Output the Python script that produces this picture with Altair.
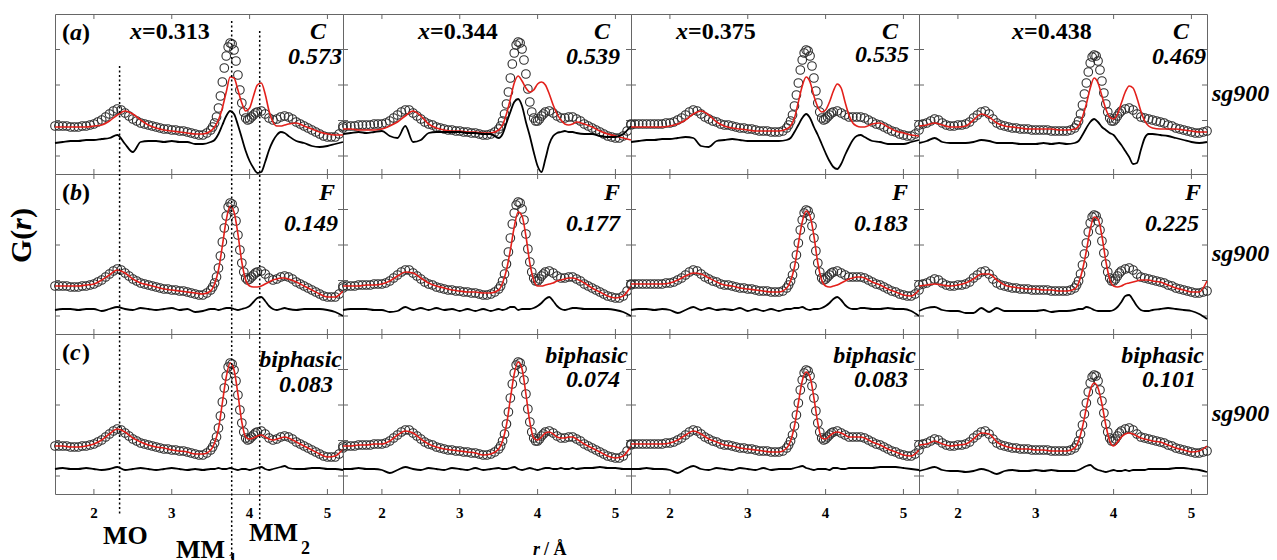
import altair as alt
import numpy as np
import pandas as pd

# ---------------------------------------------------------------------------
# r grids (Å): observed G(r) is sampled more finely through the M-M peak
# ---------------------------------------------------------------------------
R_OBS = np.round(np.concatenate([
    np.arange(1.5, 3.5001, 0.05),
    np.arange(3.525, 4.1001, 0.025),
    np.arange(4.15, 5.2001, 0.05),
]), 3)
R_FIT = np.round(np.concatenate([
    np.arange(1.5, 3.5001, 0.1),
    np.arange(3.55, 4.5001, 0.05),
    np.arange(4.6, 5.2001, 0.1),
]), 3)

COMPOSITIONS = ["0.313", "0.344", "0.375", "0.438"]
MODELS = ["C", "F", "biphasic"]
PANEL_TAGS = ["a", "b", "c"]
R_FACTORS = {
    "C": [0.573, 0.539, 0.535, 0.469],
    "F": [0.149, 0.177, 0.183, 0.225],
    "biphasic": [0.083, 0.074, 0.083, 0.101],
}
X_TICKS = [2, 3, 4, 5]
X_TICK_LABELS = ["2", "3", "4", "5"]
Y_TICKS = [-2.2, 1.35, 4.9, 8.45]
BOND_R = {"MO": 2.33, "MM1": 3.77, "MM2": 4.13}

# ---------------------------------------------------------------------------
# Observed G(r), one curve per composition
# ---------------------------------------------------------------------------
OBS_313 = [0.8, 0.8, 0.8, 0.8, 0.7, 0.7, 0.7, 0.8, 0.8, 0.9,
           1.0, 1.2, 1.4, 1.7, 2.0, 2.3, 2.5, 2.4, 2.1, 1.8,
           1.5, 1.3, 1.1, 1.0, 0.9, 0.8, 0.7, 0.6, 0.5, 0.5,
           0.4, 0.4, 0.3, 0.3, 0.2, 0.1, 0.0, -0.1, -0.1, 0.1, 0.4,
           0.7, 1.1, 1.7, 2.6, 3.8, 5.2, 6.6, 7.8, 8.7, 9.1, 9.0, 8.4,
           7.3, 5.9, 4.4, 3.1, 2.2, 1.6, 1.4, 1.5, 1.7, 1.9, 2.1, 2.2,
           2.3, 2.0, 1.6, 1.4, 1.5, 1.7, 1.8, 1.7, 1.5, 1.2, 1.0,
           0.8, 0.6, 0.4, 0.2, 0.0, -0.2, -0.3, -0.3, -0.3, 0.0, 0.6]
OBS_344 = [0.8, 0.8, 0.8, 0.8, 0.9, 0.9, 0.9, 0.9, 1.0, 1.0,
           1.0, 1.1, 1.3, 1.6, 1.9, 2.2, 2.4, 2.4, 2.1, 1.8,
           1.5, 1.2, 1.0, 0.9, 0.7, 0.6, 0.5, 0.4, 0.4, 0.3,
           0.3, 0.2, 0.2, 0.1, 0.1, 0.0, -0.1, -0.1, 0.0, 0.2, 0.5,
           0.8, 1.3, 2.0, 3.0, 4.2, 5.6, 7.0, 8.1, 8.9, 9.2, 9.1, 8.5,
           7.4, 6.0, 4.5, 3.2, 2.2, 1.6, 1.3, 1.3, 1.5, 1.8, 2.0, 2.2,
           2.3, 2.1, 1.8, 1.6, 1.6, 1.7, 1.7, 1.5, 1.3, 1.0, 0.8,
           0.6, 0.4, 0.2, 0.0, -0.2, -0.3, -0.4, -0.4, -0.2, 0.3, 0.9]
OBS_375 = [1.0, 1.0, 1.0, 1.0, 1.0, 1.0, 1.0, 1.0, 1.0, 1.1,
           1.1, 1.2, 1.4, 1.6, 1.9, 2.2, 2.4, 2.3, 2.0, 1.7,
           1.5, 1.3, 1.2, 1.0, 0.9, 0.9, 0.8, 0.7, 0.6, 0.6,
           0.5, 0.5, 0.4, 0.3, 0.3, 0.3, 0.2, 0.2, 0.2, 0.3, 0.6,
           0.9, 1.3, 1.9, 2.8, 3.9, 5.1, 6.4, 7.4, 8.1, 8.4, 8.3, 7.8,
           6.8, 5.6, 4.3, 3.1, 2.2, 1.6, 1.4, 1.5, 1.7, 1.9, 2.1, 2.2,
           2.3, 2.1, 1.9, 1.7, 1.7, 1.7, 1.7, 1.6, 1.4, 1.2, 1.0,
           0.9, 0.7, 0.5, 0.3, 0.2, 0.0, -0.1, -0.2, -0.2, 0.0, 0.4]
OBS_438 = [0.9, 1.0, 1.1, 1.3, 1.5, 1.4, 1.1, 0.9, 0.8, 0.8,
           0.9, 0.9, 1.0, 1.2, 1.6, 1.9, 2.2, 2.3, 2.0, 1.5,
           1.1, 0.9, 0.8, 0.7, 0.6, 0.6, 0.5, 0.5, 0.5, 0.4,
           0.4, 0.4, 0.4, 0.4, 0.3, 0.3, 0.3, 0.3, 0.3, 0.4, 0.6,
           0.9, 1.3, 2.0, 2.9, 4.0, 5.1, 6.2, 7.1, 7.7, 7.9, 7.8, 7.3,
           6.4, 5.3, 4.1, 3.0, 2.2, 1.6, 1.3, 1.3, 1.5, 1.8, 2.1, 2.3,
           2.5, 2.6, 2.4, 2.0, 1.7, 1.6, 1.5, 1.4, 1.3, 1.2, 1.1,
           0.9, 0.8, 0.6, 0.5, 0.4, 0.3, 0.2, 0.1, 0.1, 0.2, 0.3]

# ---------------------------------------------------------------------------
# Model fits and difference curves (offset below the data)
# ---------------------------------------------------------------------------
FIT_C_313 = [0.7, 0.7, 0.7, 0.7, 0.7, 0.8, 0.9, 1.3, 1.9, 2.3, 2.0, 1.4, 0.9, 0.6, 0.4, 0.3, 0.2, 0.1, 0.0, 0.0, 0.3,
             0.7, 1.4, 2.6, 4.2, 5.7, 5.6, 4.4, 3.1, 2.3, 2.6, 3.8, 4.9, 5.1, 4.0, 2.3, 1.2, 0.8, 0.8, 0.9, 1.0,
             1.1, 0.8, 0.5, 0.2, 0.0, -0.1, -0.1]
DIFF_C_313 = [-0.9, -0.8, -0.7, -0.7, -0.6, -0.6, -0.5, -0.4, -0.1, -1.0, -1.8, -0.8, -0.7, -0.7, -0.8, -0.7, -0.8, -0.8, -1.0, -1.0, -0.8,
              -0.6, 0.0, 0.9, 1.8, 2.3, 2.0, 0.9, -0.4, -1.7, -2.7, -3.4, -3.9, -3.8, -2.8, -1.6, -0.7, -0.1, 0.2, 0.1, -0.2,
              -0.7, -0.9, -1.2, -1.3, -1.2, -1.0, -0.8]
FIT_F_313 = [0.8, 0.8, 0.8, 0.8, 0.9, 1.0, 1.4, 1.9, 2.4, 2.1, 1.5, 1.1, 0.9, 0.7, 0.5, 0.4, 0.3, 0.2, 0.1, 0.0, 0.3,
             1.0, 2.4, 4.8, 7.4, 8.8, 8.2, 6.0, 3.2, 1.4, 0.8, 0.7, 0.7, 0.8, 1.0, 1.2, 1.4, 1.5, 1.6, 1.6, 1.5,
             1.2, 0.8, 0.4, 0.0, -0.3, -0.3, 0.3]
DIFF_F_313 = [-1.6, -1.5, -1.5, -1.6, -1.5, -1.5, -1.7, -1.5, -1.3, -1.5, -1.6, -1.4, -1.5, -1.6, -1.5, -1.4, -1.6, -1.5, -1.8, -1.7, -1.5,
              -1.5, -1.6, -1.5, -1.4, -1.4, -1.5, -1.6, -1.5, -1.4, -1.2, -0.8, -0.4, -0.3, -0.7, -1.2, -1.5, -1.6, -1.5, -1.4, -1.5,
              -1.6, -1.5, -1.5, -1.5, -1.6, -1.8, -2.2]
FIT_B_313 = [0.8, 0.8, 0.7, 0.7, 0.8, 1.0, 1.4, 2.0, 2.5, 2.2, 1.6, 1.2, 0.9, 0.7, 0.6, 0.4, 0.3, 0.2, 0.0, 0.0, 0.4,
             1.1, 2.5, 5.1, 7.7, 9.1, 8.4, 6.0, 3.2, 1.7, 1.5, 1.6, 1.8, 1.9, 1.7, 1.5, 1.4, 1.5, 1.6, 1.7, 1.6,
             1.2, 0.8, 0.4, 0.0, -0.3, -0.2, 0.5]
DIFF_B_313 = [-1.5, -1.4, -1.5, -1.5, -1.4, -1.5, -1.6, -1.5, -1.3, -1.6, -1.5, -1.4, -1.5, -1.6, -1.5, -1.4, -1.5, -1.6, -1.5, -1.6, -1.5,
              -1.5, -1.4, -1.5, -1.5, -1.4, -1.5, -1.6, -1.5, -1.5, -1.6, -1.5, -1.4, -1.3, -1.5, -1.6, -1.5, -1.4, -1.3, -1.2, -1.4,
              -1.5, -1.5, -1.4, -1.4, -1.5, -1.5, -1.6]

FIT_C_344 = [0.5, 0.5, 0.4, 0.4, 0.4, 0.5, 0.8, 1.2, 1.8, 2.3, 1.8, 1.0, 0.6, 0.4, 0.3, 0.3, 0.2, 0.2, 0.1, 0.1, 0.4,
             0.9, 2.0, 3.5, 5.1, 5.8, 5.3, 4.6, 4.2, 4.4, 5.0, 5.2, 4.9, 4.0, 2.9, 2.0, 1.4, 1.0, 0.9, 1.0, 1.2,
             1.0, 0.7, 0.3, 0.0, -0.2, -0.4, -0.6]
DIFF_C_344 = [0.0, 0.1, 0.2, 0.1, 0.2, 0.3, -0.2, -0.4, 0.8, -0.8, -0.6, 0.1, 0.2, 0.2, 0.2, 0.2, 0.1, 0.1, 0.0, 0.0, -0.4,
              0.0, 1.1, 2.2, 3.2, 3.5, 2.8, 1.2, -0.2, -1.8, -3.2, -3.8, -2.5, -1.0, -0.2, 0.1, 0.2, 0.3, 0.2, 0.2, 0.1,
              0.0, 0.0, -0.2, -0.3, -0.3, 0.0, 0.8]
FIT_F_344 = [0.8, 0.8, 0.8, 0.9, 0.9, 1.0, 1.3, 1.8, 2.2, 2.1, 1.6, 1.1, 0.8, 0.6, 0.4, 0.3, 0.2, 0.2, 0.1, 0.1, 0.4,
             1.1, 2.4, 4.4, 6.7, 8.2, 7.8, 5.8, 3.1, 1.4, 0.8, 0.8, 0.9, 1.0, 1.1, 1.3, 1.4, 1.5, 1.6, 1.6, 1.5,
             1.1, 0.6, 0.2, -0.2, -0.4, -0.2, 0.8]
DIFF_F_344 = [-1.6, -1.5, -1.5, -1.5, -1.6, -1.6, -1.8, -1.7, -1.3, -1.6, -1.4, -1.6, -1.4, -1.6, -1.5, -1.7, -1.5, -1.7, -1.5, -1.7, -1.5,
              -1.6, -1.5, -1.3, -1.3, -1.6, -1.5, -1.5, -1.5, -1.4, -1.2, -0.9, -0.5, -0.3, -0.7, -1.2, -1.5, -1.6, -1.5, -1.4, -1.4,
              -1.5, -1.5, -1.5, -1.5, -1.6, -1.8, -2.2]
FIT_B_344 = [0.8, 0.8, 0.9, 0.9, 1.0, 1.0, 1.3, 1.9, 2.3, 2.1, 1.5, 1.0, 0.7, 0.5, 0.4, 0.3, 0.2, 0.1, -0.1, 0.0, 0.5,
             1.3, 2.9, 5.5, 8.0, 9.2, 8.5, 6.0, 3.2, 1.6, 1.4, 1.7, 2.1, 2.2, 2.0, 1.7, 1.6, 1.6, 1.7, 1.7, 1.5,
             1.0, 0.6, 0.2, -0.2, -0.4, -0.2, 0.8]
DIFF_B_344 = [-1.5, -1.5, -1.4, -1.5, -1.5, -1.6, -1.9, -1.6, -1.3, -1.5, -1.6, -1.4, -1.5, -1.6, -1.4, -1.5, -1.6, -1.4, -1.6, -1.5, -1.4,
              -1.5, -1.5, -1.4, -1.3, -1.5, -1.6, -1.5, -1.4, -1.5, -1.6, -1.5, -1.4, -1.4, -1.5, -1.5, -1.4, -1.5, -1.5, -1.4, -1.5,
              -1.4, -1.4, -1.3, -1.4, -1.4, -1.5, -1.5]

FIT_C_375 = [0.7, 0.7, 0.7, 0.7, 0.7, 0.8, 1.0, 1.4, 2.0, 2.3, 1.9, 1.2, 0.8, 0.6, 0.5, 0.4, 0.3, 0.3, 0.3, 0.3, 0.5,
             0.8, 1.6, 3.2, 4.8, 5.7, 5.2, 3.8, 2.7, 2.2, 2.4, 3.2, 4.3, 5.0, 4.6, 3.2, 1.9, 1.1, 0.8, 0.7, 0.7,
             1.0, 1.1, 0.7, 0.3, 0.1, -0.1, -0.2]
DIFF_C_375 = [-0.8, -0.7, -0.6, -0.6, -0.5, -0.5, -0.4, -0.3, -0.4, -1.2, -1.3, -0.7, -0.6, -0.5, -0.6, -0.7, -0.7, -0.7, -0.7, -0.7, -0.6,
              -0.4, 0.2, 0.9, 1.6, 2.0, 1.6, 0.7, -0.1, -1.0, -1.9, -2.7, -3.3, -3.5, -3.0, -2.1, -1.3, -0.6, -0.2, -0.1, -0.3,
              -0.7, -0.8, -1.0, -1.0, -1.0, -0.8, -0.6]
FIT_F_375 = [1.0, 1.0, 1.0, 1.0, 1.0, 1.1, 1.4, 1.8, 2.1, 2.0, 1.6, 1.2, 0.9, 0.8, 0.6, 0.5, 0.4, 0.3, 0.2, 0.2, 0.6,
             1.3, 2.7, 5.0, 7.2, 8.3, 7.8, 5.8, 3.1, 1.4, 0.8, 0.7, 0.8, 0.9, 1.1, 1.3, 1.5, 1.6, 1.7, 1.7, 1.6,
             1.2, 0.9, 0.5, 0.2, -0.1, -0.2, 0.4]
DIFF_F_375 = [-1.6, -1.5, -1.5, -1.6, -1.5, -1.6, -1.9, -1.6, -1.3, -1.6, -1.4, -1.6, -1.5, -1.6, -1.4, -1.7, -1.5, -1.7, -1.5, -1.7, -1.5,
              -1.5, -1.4, -1.4, -1.3, -1.5, -1.6, -1.5, -1.5, -1.4, -1.2, -0.9, -0.5, -0.3, -0.6, -1.1, -1.4, -1.5, -1.5, -1.4, -1.4,
              -1.5, -1.5, -1.4, -1.5, -1.5, -1.7, -2.2]
FIT_B_375 = [1.0, 1.0, 1.0, 1.0, 1.0, 1.1, 1.4, 1.9, 2.3, 2.0, 1.5, 1.2, 0.9, 0.8, 0.6, 0.5, 0.4, 0.3, 0.2, 0.2, 0.6,
             1.3, 2.8, 5.1, 7.3, 8.2, 7.7, 5.6, 3.1, 1.6, 1.5, 1.8, 2.1, 2.2, 2.1, 1.9, 1.7, 1.7, 1.7, 1.7, 1.6,
             1.2, 0.9, 0.5, 0.2, -0.1, -0.2, 0.4]
DIFF_B_375 = [-1.5, -1.5, -1.4, -1.5, -1.5, -1.6, -1.9, -1.5, -1.2, -1.5, -1.6, -1.4, -1.5, -1.6, -1.4, -1.5, -1.6, -1.4, -1.6, -1.5, -1.5,
              -1.5, -1.4, -1.3, -1.2, -1.4, -1.5, -1.6, -1.5, -1.5, -1.5, -1.6, -1.4, -1.4, -1.5, -1.5, -1.4, -1.4, -1.4, -1.4, -1.4,
              -1.4, -1.3, -1.3, -1.3, -1.4, -1.5, -1.6]

FIT_C_438 = [0.8, 0.9, 1.1, 0.9, 0.7, 0.7, 0.8, 1.4, 2.0, 1.7, 1.1, 0.8, 0.7, 0.6, 0.5, 0.5, 0.5, 0.5, 0.4, 0.4, 0.5,
             0.8, 1.7, 3.0, 4.6, 5.6, 5.1, 3.8, 2.5, 1.7, 1.5, 2.0, 3.1, 4.2, 4.8, 4.6, 3.6, 2.3, 1.3, 0.8, 0.6,
             0.5, 0.5, 0.5, 0.4, 0.3, 0.2, 0.2]
DIFF_C_438 = [-0.9, -0.7, -0.4, -0.8, -0.9, -0.9, -0.9, -0.8, -0.6, -0.7, -0.9, -0.9, -0.9, -1.0, -1.0, -1.0, -0.9, -1.0, -0.9, -1.0, -0.9,
              -0.7, -0.1, 0.6, 1.2, 1.5, 1.2, 0.7, 0.4, 0.1, -0.1, -0.6, -1.1, -1.7, -2.3, -3.0, -2.9, -1.6, -0.4, 0.0, 0.0,
              -0.1, -0.2, -0.4, -0.6, -0.8, -0.9, -0.8]
FIT_F_438 = [0.8, 0.9, 1.0, 0.9, 0.8, 0.9, 1.1, 1.5, 2.0, 2.0, 1.4, 0.9, 0.7, 0.6, 0.5, 0.5, 0.4, 0.4, 0.3, 0.3, 0.5,
             1.1, 2.4, 4.3, 6.5, 7.7, 7.5, 5.8, 3.3, 1.5, 0.8, 0.7, 0.8, 1.0, 1.1, 1.2, 1.3, 1.4, 1.4, 1.4, 1.3,
             1.2, 0.9, 0.6, 0.4, 0.2, 0.2, 1.3]
DIFF_F_438 = [-1.7, -1.4, -1.3, -1.6, -1.7, -1.7, -1.9, -1.9, -1.4, -1.8, -1.4, -1.7, -1.7, -1.7, -1.7, -1.7, -1.6, -1.8, -1.7, -1.7, -1.6,
              -1.5, -1.5, -1.3, -1.4, -1.6, -1.7, -1.7, -1.7, -1.7, -1.6, -1.3, -0.8, -0.2, -0.1, -0.6, -1.2, -1.6, -1.7, -1.7, -1.6,
              -1.5, -1.4, -1.5, -1.6, -1.7, -2.0, -2.5]
FIT_B_438 = [0.9, 1.0, 1.3, 1.0, 0.8, 0.9, 1.0, 1.5, 2.1, 2.0, 1.2, 0.8, 0.6, 0.5, 0.5, 0.4, 0.4, 0.3, 0.3, 0.3, 0.6,
             1.3, 2.7, 4.6, 6.4, 7.1, 6.6, 5.0, 2.9, 1.3, 0.8, 1.2, 1.7, 2.0, 2.1, 2.0, 1.8, 1.6, 1.5, 1.4, 1.3,
             1.2, 0.9, 0.6, 0.4, 0.2, 0.3, 0.8]
DIFF_B_438 = [-1.7, -1.5, -1.3, -1.6, -1.7, -1.7, -1.8, -1.7, -1.5, -1.7, -2.0, -1.7, -1.6, -1.7, -1.7, -1.6, -1.7, -1.6, -1.7, -1.7, -1.7,
              -1.6, -1.4, -1.2, -1.1, -1.4, -1.6, -1.7, -1.8, -1.7, -1.6, -1.7, -1.7, -1.6, -1.7, -1.6, -1.6, -1.6, -1.6, -1.5, -1.5,
              -1.5, -1.5, -1.4, -1.4, -1.5, -1.6, -1.8]

OBS = {"0.313": OBS_313, "0.344": OBS_344, "0.375": OBS_375, "0.438": OBS_438}
FIT = {
    ("C", "0.313"): FIT_C_313, ("F", "0.313"): FIT_F_313, ("biphasic", "0.313"): FIT_B_313,
    ("C", "0.344"): FIT_C_344, ("F", "0.344"): FIT_F_344, ("biphasic", "0.344"): FIT_B_344,
    ("C", "0.375"): FIT_C_375, ("F", "0.375"): FIT_F_375, ("biphasic", "0.375"): FIT_B_375,
    ("C", "0.438"): FIT_C_438, ("F", "0.438"): FIT_F_438, ("biphasic", "0.438"): FIT_B_438,
}
DIFF = {
    ("C", "0.313"): DIFF_C_313, ("F", "0.313"): DIFF_F_313, ("biphasic", "0.313"): DIFF_B_313,
    ("C", "0.344"): DIFF_C_344, ("F", "0.344"): DIFF_F_344, ("biphasic", "0.344"): DIFF_B_344,
    ("C", "0.375"): DIFF_C_375, ("F", "0.375"): DIFF_F_375, ("biphasic", "0.375"): DIFF_B_375,
    ("C", "0.438"): DIFF_C_438, ("F", "0.438"): DIFF_F_438, ("biphasic", "0.438"): DIFF_B_438,
}

# ---------------------------------------------------------------------------
# Layout
# ---------------------------------------------------------------------------
W, H = 288, 160
SERIF = "Liberation Serif"
FRAME = "#666666"
X_SCALE = alt.Scale(domain=[1.5, 5.2], nice=False, zero=False)
Y_SCALE = alt.Scale(domain=[-4, 12], nice=False, zero=False)

# annotation placement inside each panel
XLAB_LEFT = [75, 75, 45, 93]
NAME_RIGHT = {"C": [271, 267, 267, 270], "F": [280, 277, 277, 282], "biphasic": [287, 285, 285, 285]}
NAME_BASE = {"C": [25, 25, 25, 25], "F": [26, 26, 26, 26], "biphasic": [33, 29, 29, 29]}
VAL_RIGHT = {"C": [287, 277, 278, 287], "F": [283, 277, 277, 280], "biphasic": [278, 277, 277, 277]}
VAL_BASE = {"C": [50, 50, 48, 50], "F": [57, 57, 57, 57], "biphasic": [58, 53, 53, 53]}


def txt(text, x, y, size=24, italic=False, align="left", baseline="alphabetic", angle=0):
    props = dict(font=SERIF, fontSize=size, fontWeight="bold",
                 fontStyle="italic" if italic else "normal",
                 align=align, baseline=baseline, color="black")
    if angle:
        props["angle"] = angle
    return alt.Chart(pd.DataFrame({"label": [text]})).mark_text(**props).encode(
        x=alt.value(x), y=alt.value(y), text="label:N")


def panel(i, j):
    model, comp = MODELS[i], COMPOSITIONS[j]
    x = alt.X("r:Q", scale=X_SCALE, axis=None)
    y = alt.Y("G:Q", scale=Y_SCALE, axis=None)

    obs = pd.DataFrame({"r": R_OBS, "G": OBS[comp]})
    fit = pd.DataFrame({"r": R_FIT, "G": FIT[(model, comp)]})
    dif = pd.DataFrame({"r": R_FIT, "G": DIFF[(model, comp)]})
    xt = pd.DataFrame({"r": X_TICKS, "label": X_TICK_LABELS})
    yt = pd.DataFrame({"G": Y_TICKS})

    tick = dict(color=FRAME, strokeWidth=1)
    layers = [
        alt.Chart(xt).mark_rule(**tick).encode(x=x, y=alt.value(0), y2=alt.value(5)),
        alt.Chart(xt).mark_rule(**tick).encode(x=x, y=alt.value(H - 5), y2=alt.value(H)),
        alt.Chart(yt).mark_rule(**tick).encode(y=y, x=alt.value(0), x2=alt.value(5)),
        alt.Chart(yt).mark_rule(**tick).encode(y=y, x=alt.value(W - 5), x2=alt.value(W)),
        # open circles: observed data
        alt.Chart(obs).mark_point(shape="circle", filled=False, size=74, color="#2e2e2e",
                                  strokeWidth=1.1, opacity=1).encode(x=x, y=y),
        alt.Chart(fit).mark_line(color="#e3201b", strokeWidth=1.6,
                                 interpolate="monotone").encode(x=x, y=y),
        alt.Chart(dif).mark_line(color="black", strokeWidth=1.8,
                                 interpolate="monotone").encode(x=x, y=y),
    ]

    # model name and its agreement factor
    layers.append(txt(model, NAME_RIGHT[model][j], NAME_BASE[model][j], italic=True, align="right"))
    layers.append(txt(f"{R_FACTORS[model][j]:.3f}", VAL_RIGHT[model][j], VAL_BASE[model][j],
                      italic=True, align="right"))

    if i == 0:
        left = XLAB_LEFT[j]
        layers.append(txt("x", left, 25, italic=True))
        layers.append(txt(f"={comp}", left + 12, 25))
    if j == 0:
        layers.append(txt("(", 7, 26))
        layers.append(txt(PANEL_TAGS[i], 15, 26, italic=True))
        layers.append(txt(")", 27, 26))
    if j == 3:
        layers.append(txt("sg900", W + 5, 87, italic=True))
    if i == 2:
        layers.append(alt.Chart(xt).mark_text(font=SERIF, fontSize=15, fontWeight="bold",
                                              align="center", baseline="alphabetic",
                                              color="black").encode(
            x=x, y=alt.value(H + 24), text="label:N"))
    if i == 2 and j == 1:
        layers.append(txt("r", 190, 221, size=18, italic=True))
        layers.append(txt("/ Å", 201, 221, size=18))

    if i == 0 and j == 0:
        # fixes the page origin: the first frame sits 54 px in and 13 px down
        layers.append(alt.Chart(pd.DataFrame({"label": [""]})).mark_rule(
            opacity=0, strokeOpacity=0).encode(
            x=alt.value(-54), x2=alt.value(-54), y=alt.value(-13), y2=alt.value(-13)))
        # y-axis title, rotated
        layers.append(txt("G(", -33, 249, size=30, baseline="middle", angle=270))
        layers.append(txt("r", -33, 216, size=30, italic=True, baseline="middle", angle=270))
        layers.append(txt(")", -33, 204, size=30, baseline="middle", angle=270))

    if i == 2 and j == 0:
        # dotted guides for the M-O and two M-M distances, spanning all rows
        guide = dict(color="black", strokeWidth=1.5, strokeDash=[2, 2.5])
        spans = {"MO": (-268, 182), "MM1": (-313, 230), "MM2": (-303, 187)}
        for key, (top, bottom) in spans.items():
            layers.append(alt.Chart(pd.DataFrame({"r": [BOND_R[key]]})).mark_rule(**guide).encode(
                x=x, y=alt.value(top), y2=alt.value(bottom)))
        layers.append(txt("MO", 48, 210, size=26))
        layers.append(txt("MM", 121, 224, size=26))
        layers.append(txt("1", 173, 232, size=18))
        layers.append(txt("MM", 194, 207, size=26))
        layers.append(txt("2", 246, 220, size=18))

    return alt.layer(*layers).properties(width=W, height=H)


panels = [panel(i, j) for i in range(3) for j in range(4)]

chart = alt.concat(*panels, columns=4, spacing=0, bounds="flush").properties(
    padding=0, background="white"
).configure_view(stroke=FRAME, strokeWidth=1)

chart.save("out.html", embed_options={"renderer": "svg", "actions": False})
